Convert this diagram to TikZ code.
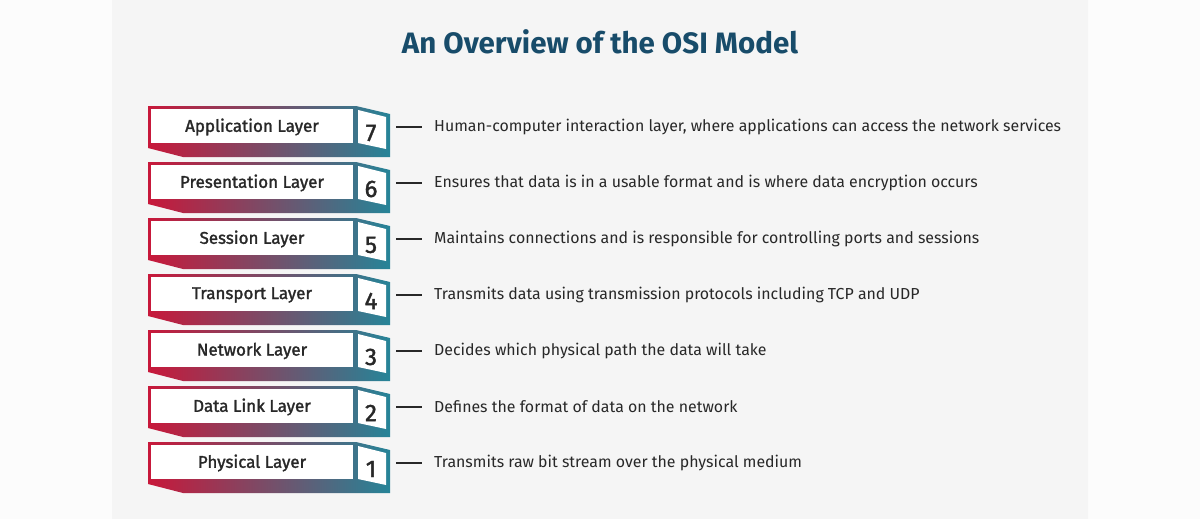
\documentclass[tikz,border=0pt]{standalone}
\usepackage{fontspec}
\setmainfont{Fira Sans}
\newfontfamily\medfont[BoldFont={Fira Sans}, BoldFeatures={FakeBold=1.6}]{Fira Sans}
\definecolor{bgcol}{RGB}{252,252,252}
\definecolor{cardcol}{RGB}{245,245,245}
\definecolor{titlecol}{RGB}{24,76,106}
\definecolor{redend}{RGB}{200,24,58}
\definecolor{tealend}{RGB}{38,132,152}
\definecolor{txtcol}{RGB}{40,40,40}
\tikzset{
  layerlabel/.style={font=\fontsize{17}{19}\medfont\bfseries, text=txtcol},
  numlabel/.style={font=\fontsize{24}{26}\medfont\bfseries, text=txtcol},
  desclabel/.style={font=\fontsize{15.9}{18}\selectfont, text=txtcol, anchor=west, inner sep=0pt},
  dash line/.style={line width=1.4pt, txtcol}
}
\begin{document}
\begin{tikzpicture}[x=1pt,y=-1pt]
\useasboundingbox (0,0) rectangle (1200,519);
\fill[bgcol] (0,0) rectangle (1200,519);
\fill[cardcol,rounded corners=8pt] (112,-10) rectangle (1088,529);
\node[font=\fontsize{29.5}{32}\selectfont\bfseries, text=titlecol] (title) at (600,42) {An Overview of the OSI Model};
\foreach \n/\name/\txt [count=\k from 0] in {
  7/Application Layer/{Human-computer interaction layer, where applications can access the network services},
  6/Presentation Layer/{Ensures that data is in a usable format and is where data encryption occurs},
  5/Session Layer/{Maintains connections and is responsible for controlling ports and sessions},
  4/Transport Layer/{Transmits data using transmission protocols including TCP and UDP},
  3/Network Layer/{Decides which physical path the data will take},
  2/Data Link Layer/{Defines the format of data on the network},
  1/Physical Layer/{Transmits raw bit stream over the physical medium}} {
  \pgfmathsetmacro\t{108+56*\k}
  % block with gradient rim and bevel
  \shade[left color=redend, right color=tealend]
    (148,\t-2) -- (356,\t-2) -- (390,\t+6) -- (390,\t+49) -- (183,\t+49) -- (148,\t+40) -- cycle;
  \fill[white] (151,\t+1) rectangle (353,\t+35);
  \fill[white] (358,\t+2) -- (386,\t+9) -- (386,\t+41) -- (358,\t+35) -- cycle;
  \node[layerlabel] (layer\n) at (252,\t+19) {\name};
  \node[numlabel] (num\n) at (371,\t+25) {\n};
  \node[desclabel] (desc\n) at (434,\t+19) {\txt};
  \coordinate (dash\n) at (396,\t+19);
  \draw[dash line] (dash\n) -- ([xshift=-12pt]desc\n.west);
}
\end{tikzpicture}
\end{document}
